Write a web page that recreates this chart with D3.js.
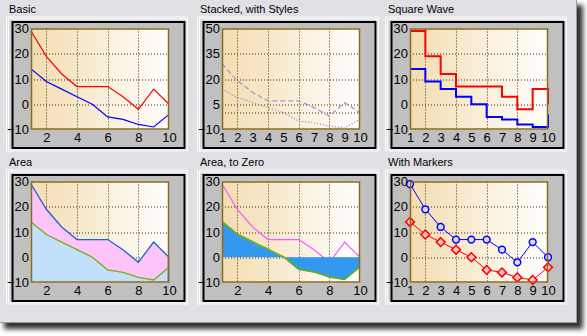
<!DOCTYPE html>
<html><head><meta charset="utf-8">
<script src="https://cdn.jsdelivr.net/npm/d3@7"></script>
<style>html,body{margin:0;padding:0;background:#fff;overflow:hidden}</style>
</head><body><svg id="c" width="587" height="336"></svg>
<script>
// ---- data ----
const categories = [1,2,3,4,5,6,7,8,9,10];
const seriesA = [29,19,12,7,7,7,3,-2,6,0];
const seriesB = [14,9,6,3,0,-5,-6,-8,-9,-4];
const panelTitles = ["Basic","Stacked, with Styles","Square Wave","Area","Area, to Zero","With Markers"];
const yTicksStd = [30,20,10,0,-10];
const yTicksStacked = [50,35,20,5,-10];
const yGridStd = [20,10,0];
const yGridStacked = [35,20,5,0];
const xTicksEven = [2,4,6,8,10];
const xTicksAll = [1,2,3,4,5,6,7,8,9,10];
const xGrid = [2,4,6,8];

const svg = d3.select("#c");
const defs = svg.append("defs");
const grad = defs.append("linearGradient").attr("id","bg").attr("x1","0").attr("x2","1").attr("y1","0").attr("y2","0");
grad.append("stop").attr("offset","0").attr("stop-color","#f3dcb0");
grad.append("stop").attr("offset","1").attr("stop-color","#ffffff");
const blur = defs.append("filter").attr("id","sh").attr("x","-10%").attr("y","-10%").attr("width","120%").attr("height","120%");
blur.append("feGaussianBlur").attr("stdDeviation","2.5");

// window + shadow
svg.append("rect").attr("x",4).attr("y",5).attr("width",579).attr("height",324).attr("fill","#333").attr("filter","url(#sh)");
svg.append("rect").attr("x",0).attr("y",0).attr("width",577).attr("height",323).attr("fill","#e1e0e5");
svg.append("line").attr("x1",576.5).attr("x2",576.5).attr("y1",0).attr("y2",323).attr("stroke","#9a9a9e");
svg.append("line").attr("x1",0).attr("x2",577).attr("y1",322.5).attr("y2",322.5).attr("stroke","#9a9a9e");

const colX = [12, 203, 391];
const rowY = [21.5, 174.5];
const titleX = [9, 200, 388];
const titleY = [13, 166];
const FONT = "'Liberation Sans', Arial, sans-serif";

const configs = [
  {yDomain:[-10,30], yTicks:yTicksStd, yGrid:yGridStd, xTicks:xTicksEven},
  {yDomain:[-10,50], yTicks:yTicksStacked, yGrid:yGridStacked, xTicks:xTicksAll},
  {yDomain:[-10,30], yTicks:yTicksStd, yGrid:yGridStd, xTicks:xTicksAll},
  {yDomain:[-10,30], yTicks:yTicksStd, yGrid:yGridStd, xTicks:xTicksEven},
  {yDomain:[-10,30], yTicks:yTicksStd, yGrid:yGridStd, xTicks:xTicksEven},
  {yDomain:[-10,30], yTicks:yTicksStd, yGrid:yGridStd, xTicks:xTicksAll},
];

const PW = 138, PH = 101, PL = 19, PT = 7;

configs.forEach((cfg, i) => {
  const col = i % 3, row = Math.floor(i / 3);
  const ox = colX[col], oy = rowY[row];
  // title
  svg.append("text").attr("x", titleX[col]).attr("y", titleY[row]).text(panelTitles[i])
    .attr("font-family", FONT).attr("font-size", 11).attr("fill", "#000");
  // frames
  svg.append("rect").attr("x", ox-5.5).attr("y", oy-4.5).attr("width", 181).attr("height", 134)
    .attr("fill", "none").attr("stroke", "#fcfcfc");
  svg.append("rect").attr("x", ox-3.5).attr("y", oy-2.5).attr("width", 177).attr("height", 130)
    .attr("fill", "#d6d6da").attr("stroke", "#ffffff");
  svg.append("rect").attr("x", ox+0.5).attr("y", oy+0.5).attr("width", 172).attr("height", 126)
    .attr("fill", "#c0c0c0").attr("stroke", "#000").attr("stroke-width", 2);

  const g = svg.append("g").attr("transform", `translate(${ox+PL},${oy+PT})`);
  const x = d3.scaleLinear().domain([1,10]).range([0, PW]);
  const y = d3.scaleLinear().domain(cfg.yDomain).range([PH, 0]);

  g.append("rect").attr("width", PW).attr("height", PH).attr("fill", "url(#bg)");
  // grid
  g.selectAll(".gx").data(xGrid).enter().append("line")
    .attr("x1", d => Math.round(x(d))+0.5).attr("x2", d => Math.round(x(d))+0.5)
    .attr("y1", 0).attr("y2", PH).attr("stroke", "#3d2e0a").attr("stroke-dasharray", "1,2");
  g.selectAll(".gy").data(cfg.yGrid).enter().append("line")
    .attr("y1", d => Math.round(y(d))+0.5).attr("y2", d => Math.round(y(d))+0.5)
    .attr("x1", 0).attr("x2", PW).attr("stroke", "#3d2e0a").attr("stroke-dasharray", "1,2");

  const pts = (vals) => categories.map((c, k) => [c, vals[k]]);
  const lineGen = d3.line().x(d => x(d[0])).y(d => y(d[1]));
  const cl = g.append("g");

  if (i === 0) {
    cl.append("path").attr("d", lineGen(pts(seriesA))).attr("fill","none").attr("stroke","#ff0000").attr("stroke-width",1.2);
    cl.append("path").attr("d", lineGen(pts(seriesB))).attr("fill","none").attr("stroke","#0000ff").attr("stroke-width",1.2);
  } else if (i === 1) {
    cl.append("path").attr("d", lineGen(pts(seriesA))).attr("fill","none").attr("stroke","#a595d8").attr("stroke-width",1.3).attr("stroke-dasharray","5,3");
    cl.append("path").attr("d", lineGen(pts(seriesB))).attr("fill","none").attr("stroke","#9585d0").attr("stroke-width",1.3).attr("stroke-dasharray","1,2");
  } else if (i === 2) {
    const step = d3.line().x(d => x(d[0])).y(d => y(d[1])).curve(d3.curveStepAfter);
    cl.append("path").attr("d", step(pts(seriesA))).attr("fill","none").attr("stroke","#ff0000").attr("stroke-width",2);
    cl.append("path").attr("d", step(pts(seriesB))).attr("fill","none").attr("stroke","#0000ff").attr("stroke-width",2);
  } else if (i === 3) {
    const area = d3.area().x(d => x(d[0])).y0(PH).y1(d => y(d[1]));
    cl.append("path").attr("d", area(pts(seriesA))).attr("fill","#fcc4f8");
    cl.append("line").attr("x1", x(10)-0.5).attr("x2", x(10)-0.5).attr("y1", y(seriesA[9])).attr("y2", y(seriesB[9])).attr("stroke","#e040b8").attr("stroke-width",1.5);
    cl.append("path").attr("d", area(pts(seriesB))).attr("fill","#c2e0fa");
    cl.append("line").attr("x1", x(10)-0.5).attr("x2", x(10)-0.5).attr("y1", y(seriesB[9])).attr("y2", PH).attr("stroke","#2a7ad8").attr("stroke-width",1.5);
    cl.append("path").attr("d", lineGen(pts(seriesB))).attr("fill","none").attr("stroke","#78b010").attr("stroke-width",1.3);
    cl.append("path").attr("d", lineGen(pts(seriesA))).attr("fill","none").attr("stroke","#1a64d0").attr("stroke-width",1.3);
  } else if (i === 4) {
    const area0 = d3.area().x(d => x(d[0])).y0(y(0)).y1(d => y(d[1]));
    cl.append("path").attr("d", lineGen(pts(seriesA))).attr("fill","none").attr("stroke","#ff55ff").attr("stroke-width",1.2);
    cl.append("path").attr("d", area0(pts(seriesB))).attr("fill","#3399ee");
    cl.append("path").attr("d", lineGen(pts(seriesB))).attr("fill","none").attr("stroke","#70b000").attr("stroke-width",1.5).attr("transform","translate(0,-0.5)");
  } else if (i === 5) {
    cl.append("path").attr("d", lineGen(pts(seriesA))).attr("fill","none").attr("stroke","#0000ff").attr("stroke-width",1);
    cl.append("path").attr("d", lineGen(pts(seriesB))).attr("fill","none").attr("stroke","#ff0000").attr("stroke-width",1);
    cl.selectAll(".mc").data(pts(seriesA)).enter().append("circle")
      .attr("cx", d => x(d[0])).attr("cy", d => y(d[1])).attr("r", 3.4)
      .attr("fill","#dcdcff").attr("stroke","#0000ff").attr("stroke-width",1.5);
    const dia = d3.symbol().type(d3.symbolDiamond2).size(50);
    cl.selectAll(".md").data(pts(seriesB)).enter().append("path")
      .attr("d", dia).attr("transform", d => `translate(${x(d[0])},${y(d[1])})`)
      .attr("fill","#ffc0c0").attr("stroke","#ff0000").attr("stroke-width",1.5);
  }

  // plot border
  g.append("rect").attr("x",0.5).attr("y",0.5).attr("width",PW-1).attr("height",PH-1)
    .attr("fill","none").attr("stroke","#8c6a1c").attr("stroke-width",1.5);

  // axes
  const ya = g.append("g").call(d3.axisLeft(y).tickValues(cfg.yTicks).tickSize(0).tickPadding(2));
  const xa = g.append("g").attr("transform", `translate(0,${PH})`).call(d3.axisBottom(x).tickValues(cfg.xTicks).tickSize(0).tickPadding(3));
  [ya, xa].forEach(a => {
    a.select(".domain").remove();
    a.attr("font-family", FONT).attr("font-size", 13);
    a.selectAll("text").attr("fill", "#000");
  });
});
</script>
</body></html>
